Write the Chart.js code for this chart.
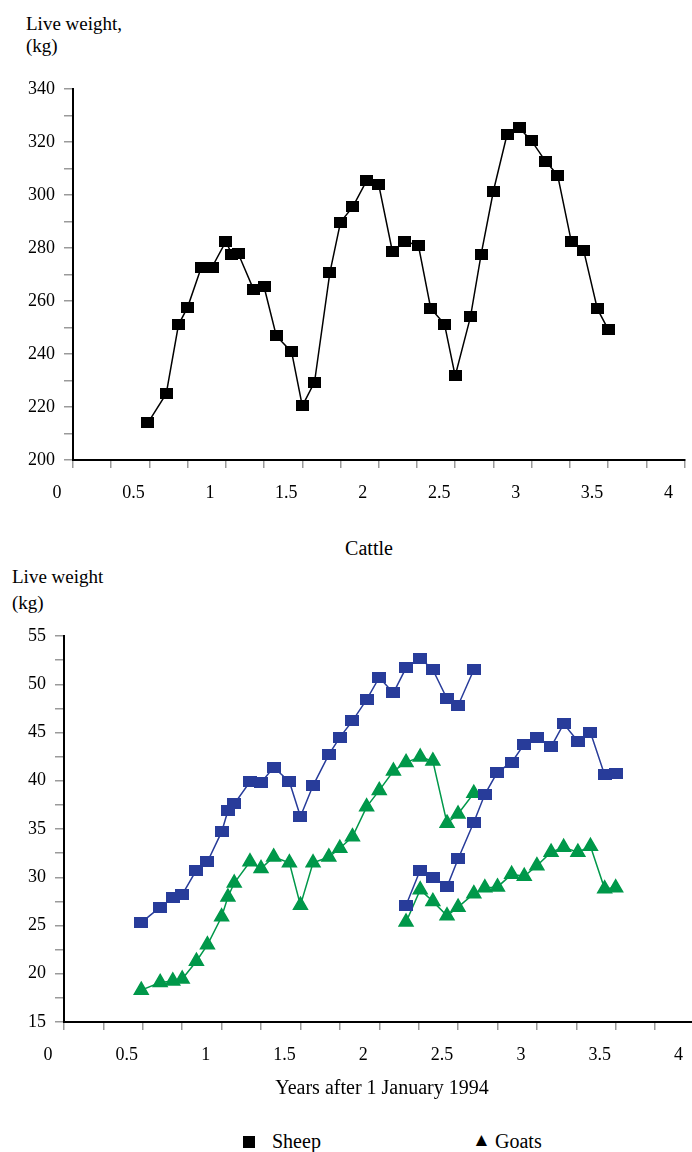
<!DOCTYPE html>
<html>
<head>
<meta charset="utf-8">
<script src="https://cdn.jsdelivr.net/npm/chart.js@4.4.0/dist/chart.umd.min.js"></script>
<style>
  html, body { margin:0; padding:0; background:#fff; overflow:hidden; width:692px; height:1152px; }
  .t { position:absolute; font-family:"Liberation Serif","DejaVu Serif",serif; font-size:19px; line-height:20px; color:#000; white-space:nowrap; }
  .b { font-size:20px; }
  #c1wrap { position:absolute; left:0; top:0; width:692px; height:520px; }
  #c2wrap { position:absolute; left:0; top:560px; width:692px; height:520px; overflow:hidden; }
</style>
</head>
<body>
<div class="t" style="left:26px; top:14px;">Live weight,</div>
<div class="t" style="left:26px; top:36px;">(kg)</div>
<div id="c1wrap"><canvas id="c1" width="692" height="520"></canvas></div>
<div class="t b" style="left:0; width:738px; text-align:center; top:538px;">Cattle</div>
<div class="t" style="left:12px; top:567px;">Live weight</div>
<div class="t" style="left:12px; top:593px;">(kg)</div>
<div id="c2wrap"><canvas id="c2" width="704" height="520"></canvas></div>
<div class="t b" style="left:0; width:764px; text-align:center; top:1077px;">Years after 1 January 1994</div>
<div class="t" style="left:243px; top:1131px;"><span style="display:inline-block;width:12px;height:12px;background:#000;vertical-align:-1px;"></span></div>
<div class="t b" style="left:272px; top:1131px;">Sheep</div>
<div class="t" style="left:472px; top:1130px;">&#9650;</div>
<div class="t b" style="left:495px; top:1131px;">Goats</div>
<script>
// ---- data ----
const years = [0.49, 0.61, 0.69, 0.75, 0.84, 0.91, 1.00, 1.04, 1.08, 1.18, 1.25, 1.33, 1.43, 1.50, 1.58, 1.68, 1.75, 1.83, 1.92, 2.00, 2.09, 2.17, 2.26, 2.34, 2.43, 2.50, 2.60, 2.67, 2.75, 2.84, 2.92, 3.00, 3.09, 3.17, 3.26, 3.34, 3.43, 3.50];
const cattle = [214, 225, 251, 257.7, 272.8, 272.8, 282.5, 277.5, 278, 264.5, 265.3, 246.8, 240.8, 220.4, 229.4, 270.6, 289.8, 295.5, 305.3, 303.8, 278.5, 282.6, 280.8, 257.2, 251.3, 231.7, 254, 277.7, 301.5, 323, 325.3, 320.4, 312.8, 307.5, 282.3, 279.2, 257, 249.4];
const sheep1 = [25.3, 26.9, 27.85, 28.2, 30.75, 31.6, 34.7, 36.9, 37.6, 39.9, 39.8, 41.4, 39.9, 36.3, 39.5, 42.7, 44.5, 46.2, 48.4, 50.7, 49.1, 51.7, 52.7, 51.5, 48.5, 47.8, 51.5];
const sheep2 = [27.1, 30.75, 30.0, 29.0, 31.9, 35.7, 38.6, 40.9, 41.9, 43.8, 44.5, 43.5, 45.9, 44.1, 45.0, 40.6, 40.8];
const goats1 = [18.3, 19.1, 19.25, 19.45, 21.3, 23.0, 25.9, 27.95, 29.4, 31.6, 30.9, 32.1, 31.5, 27.1, 31.5, 32.1, 33.0, 34.2, 37.3, 39.0, 41.0, 41.9, 42.45, 42.05, 35.6, 36.55, 38.7];
const goats2 = [25.35, 28.7, 27.5, 26.0, 26.9, 28.3, 28.9, 29.0, 30.3, 30.1, 31.2, 32.6, 33.1, 32.6, 33.2, 28.8, 28.9];
const xTickLabels = ['0', '0.5', '1', '1.5', '2', '2.5', '3', '3.5', '4'];
const cattleYLabels = ['200', '220', '240', '260', '280', '300', '320', '340'];
const smallYLabels = ['15', '20', '25', '30', '35', '40', '45', '50', '55'];
const second = 21; // index in years where second cohort starts

// ---- helpers ----
function rectImg(w, h, color) {
  const c = document.createElement('canvas');
  c.width = w; c.height = h;
  const g = c.getContext('2d');
  g.fillStyle = color; g.fillRect(0, 0, w, h);
  return c;
}
function pts(xs, ys) { return ys.map((y, i) => ({ x: xs[i], y })); }
const FONT = { family: '"Liberation Serif","DejaVu Serif",serif', size: 18 };
const BLUE = '#283c9a', GREEN = '#00984a';

function xScale(h) {
  return {
    type: 'linear', min: 0, max: 4,
    afterBuildTicks: s => { s.ticks = []; for (let i = 0; i <= 16; i++) s.ticks.push({ value: i * 0.25 }); },
    afterFit: s => { s.height = h; s.paddingLeft = 0; s.paddingRight = 0; },
    ticks: {
      autoSkip: false, maxRotation: 0, padding: 14, labelOffset: -16, color: '#000', font: FONT,
      callback: v => { const k = Math.round(v * 4); return k % 2 === 0 ? xTickLabels[k / 2] : ''; }
    },
    grid: { drawOnChartArea: false, drawTicks: true, tickLength: 8, color: '#9a9a9a', lineWidth: 1.5 },
    border: { display: true, color: '#000', width: 2 }
  };
}
function yScale(min, max, step, labels, width) {
  return {
    type: 'linear', min, max,
    afterBuildTicks: s => { s.ticks = []; for (let v = min; v <= max + 1e-9; v += step / 2) s.ticks.push({ value: v }); },
    afterFit: s => { s.width = width; s.paddingTop = 0; s.paddingBottom = 0; },
    ticks: {
      autoSkip: false, padding: 9, color: '#000', font: FONT,
      callback: v => { const k = Math.round((v - min) / step * 2); return k % 2 === 0 ? labels[k / 2] : ''; }
    },
    grid: { drawOnChartArea: false, drawTicks: true, tickLength: 9, color: '#9a9a9a', lineWidth: 1.5 },
    border: { display: true, color: '#000', width: 2 }
  };
}
const common = {
  responsive: false, animation: false,
  plugins: { legend: { display: false }, tooltip: { enabled: false }, title: { display: false } }
};

// ---- cattle chart ----
new Chart(document.getElementById('c1'), {
  type: 'line',
  data: { datasets: [{
    data: pts(years, cattle), borderColor: '#000', borderWidth: 1.5,
    pointStyle: rectImg(13, 11, '#000'), pointRadius: 6, tension: 0, fill: false
  }] },
  options: Object.assign({}, common, {
    layout: { padding: { top: 89, right: 6, left: 0, bottom: 0 } },
    scales: { x: xScale(60), y: yScale(200, 340, 20, cattleYLabels, 73) }
  })
});

// ---- sheep & goats chart ----
const sq = rectImg(14, 11, BLUE);
const ds = (ys, start, color, style, r) => ({
  data: pts(years.slice(start), ys), borderColor: color, backgroundColor: color, borderWidth: 1.5,
  pointStyle: style, pointRadius: r, tension: 0, fill: false
});
new Chart(document.getElementById('c2'), {
  type: 'line',
  data: { datasets: [
    ds(sheep1, 0, BLUE, sq, 6),
    ds(sheep2, second, BLUE, sq, 6),
    ds(goats1, 0, GREEN, 'triangle', 8),
    ds(goats2, second, GREEN, 'triangle', 8)
  ] },
  options: Object.assign({}, common, {
    layout: { padding: { top: 76, right: 6, left: 0, bottom: 0 } },
    scales: { x: xScale(58), y: yScale(15, 55, 5, smallYLabels, 64) }
  })
});
</script>
</body>
</html>
